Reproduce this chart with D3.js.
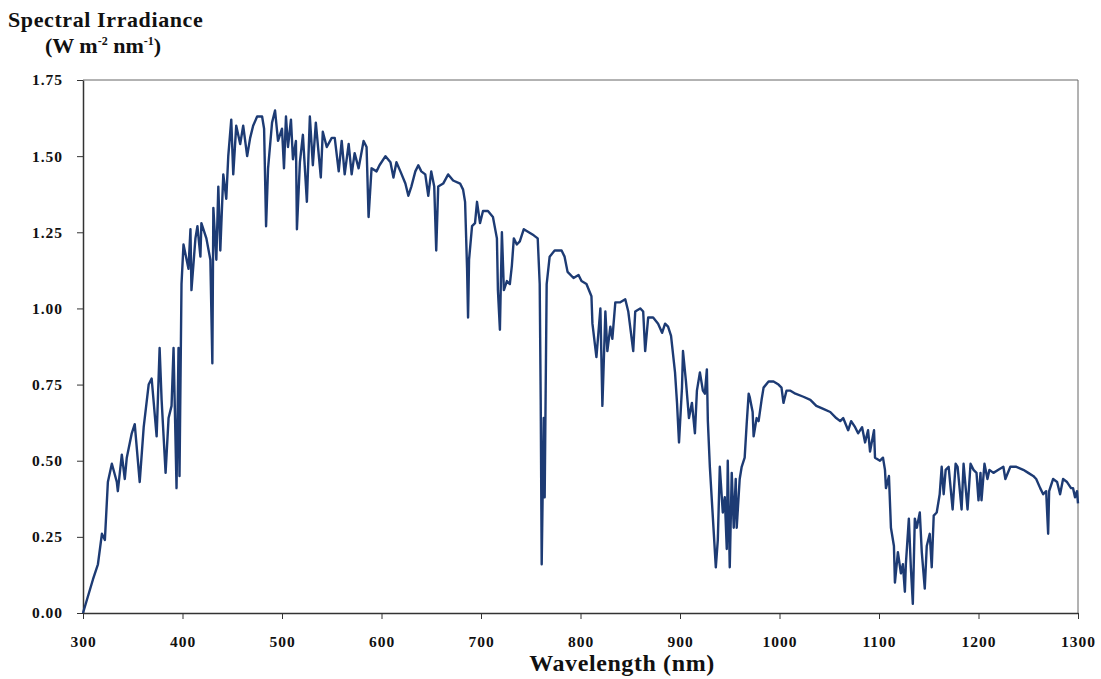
<!DOCTYPE html>
<html>
<head>
<meta charset="utf-8">
<script src="https://cdn.jsdelivr.net/npm/d3@7"></script>
<style>
  body { margin: 0; background: #fff; }
  svg text { font-family: 'Liberation Serif', 'DejaVu Serif', serif; font-weight: bold; fill: #111; font-variant-numeric: oldstyle-nums; }
  .axis path, .axis line { stroke: #333; }
</style>
</head>
<body>
<div id="chart"></div>
<script>
// spectrum, wavelength in nm, irradiance in W m-2 nm-1
const wavelength = [
  300, 310, 315, 319, 322, 325, 329, 334, 335, 339, 342, 344, 349, 352, 357, 361, 366, 369, 374, 377,
  379, 383, 386, 389, 391, 394, 396, 397, 399, 401, 406, 408, 409, 413, 415, 418, 419, 424, 428, 430,
  431, 434, 436, 438, 441, 444, 446, 449, 451, 454, 458, 461, 465, 468, 471, 475, 480, 482, 484, 486,
  490, 493, 496, 500, 502, 504, 506, 509, 511, 514, 515, 518, 521, 525, 528, 531, 534, 539, 541, 545,
  550, 553, 557, 560, 563, 567, 570, 573, 577, 582, 585, 587, 590, 595, 598, 604, 609, 612, 615, 619,
  624, 627, 630, 634, 637, 640, 644, 647, 650, 653, 655, 657, 662, 667, 672, 679, 682, 684, 686, 687,
  688, 691, 694, 696, 699, 702, 707, 712, 716, 717, 719, 721, 723, 726, 729, 731, 733, 736, 739, 743,
  748, 753, 757, 759, 760, 761, 763, 764, 766, 769, 774, 781, 784, 787, 793, 798, 801, 806, 811, 812,
  816, 820, 822, 825, 827, 830, 832, 835, 840, 845, 848, 853, 855, 860, 863, 865, 868, 873, 878, 882,
  885, 888, 891, 895, 897, 899, 902, 903, 906, 909, 912, 915, 917, 920, 923, 925, 927, 928, 930, 934,
  936, 938, 940, 943, 945, 947, 948, 950, 952, 954, 956, 957, 960, 962, 965, 967, 969, 970, 973, 974,
  977, 979, 982, 984, 989, 994, 999, 1002, 1004, 1007, 1011, 1016, 1024, 1031, 1037, 1044, 1051, 1057, 1061, 1064,
  1069, 1072, 1076, 1079, 1083, 1086, 1089, 1091, 1095, 1096, 1101, 1104, 1106, 1107, 1110, 1112, 1115, 1116, 1119, 1122,
  1124, 1126, 1127, 1130, 1132, 1134, 1136, 1138, 1141, 1143, 1146, 1148, 1151, 1153, 1155, 1158, 1161, 1163, 1165, 1167,
  1170, 1174, 1177, 1179, 1183, 1185, 1189, 1192, 1195, 1198, 1200, 1202, 1203, 1206, 1209, 1211, 1215, 1220, 1225, 1227,
  1232, 1238, 1245, 1250, 1255, 1258, 1262, 1265, 1268, 1270, 1271, 1275, 1279, 1282, 1285, 1289, 1293, 1295, 1297, 1299,
  1300
];
const irradiance = [
  0.00, 0.11, 0.16, 0.26, 0.24, 0.43, 0.49, 0.43, 0.40, 0.52, 0.44, 0.51, 0.59, 0.62, 0.43, 0.61, 0.75, 0.77, 0.58, 0.87,
  0.70, 0.46, 0.64, 0.68, 0.87, 0.41, 0.87, 0.45, 1.08, 1.21, 1.13, 1.26, 1.06, 1.23, 1.27, 1.17, 1.28, 1.23, 1.16, 0.82,
  1.33, 1.16, 1.40, 1.19, 1.44, 1.36, 1.50, 1.62, 1.44, 1.60, 1.54, 1.60, 1.50, 1.56, 1.60, 1.63, 1.63, 1.59, 1.27, 1.46,
  1.61, 1.65, 1.55, 1.59, 1.46, 1.63, 1.53, 1.62, 1.49, 1.55, 1.26, 1.48, 1.57, 1.35, 1.63, 1.47, 1.61, 1.43, 1.58, 1.53,
  1.56, 1.56, 1.45, 1.55, 1.44, 1.54, 1.44, 1.51, 1.46, 1.55, 1.53, 1.30, 1.46, 1.45, 1.47, 1.50, 1.48, 1.43, 1.48, 1.45,
  1.41, 1.37, 1.40, 1.45, 1.47, 1.45, 1.44, 1.37, 1.45, 1.40, 1.19, 1.40, 1.41, 1.44, 1.42, 1.41, 1.39, 1.35, 1.13, 0.97,
  1.16, 1.27, 1.28, 1.35, 1.28, 1.32, 1.32, 1.30, 1.23, 1.06, 0.93, 1.25, 1.06, 1.09, 1.08, 1.14, 1.23, 1.21, 1.22, 1.26,
  1.25, 1.24, 1.23, 1.08, 0.70, 0.16, 0.64, 0.38, 1.08, 1.17, 1.19, 1.19, 1.17, 1.12, 1.10, 1.11, 1.09, 1.08, 1.04, 0.95,
  0.84, 1.00, 0.68, 0.99, 0.86, 0.94, 0.90, 1.02, 1.02, 1.03, 0.99, 0.86, 0.99, 1.00, 0.99, 0.86, 0.97, 0.97, 0.95, 0.92,
  0.95, 0.94, 0.91, 0.79, 0.69, 0.56, 0.74, 0.86, 0.76, 0.64, 0.69, 0.59, 0.73, 0.79, 0.73, 0.72, 0.80, 0.63, 0.48, 0.26,
  0.15, 0.24, 0.48, 0.33, 0.38, 0.21, 0.50, 0.15, 0.46, 0.28, 0.44, 0.28, 0.44, 0.48, 0.51, 0.62, 0.72, 0.71, 0.66, 0.58,
  0.64, 0.63, 0.70, 0.74, 0.76, 0.76, 0.75, 0.74, 0.69, 0.73, 0.73, 0.72, 0.71, 0.70, 0.68, 0.67, 0.66, 0.64, 0.63, 0.64,
  0.60, 0.63, 0.61, 0.59, 0.61, 0.56, 0.60, 0.53, 0.60, 0.51, 0.50, 0.51, 0.47, 0.41, 0.45, 0.28, 0.22, 0.10, 0.20, 0.13,
  0.16, 0.07, 0.16, 0.31, 0.15, 0.03, 0.31, 0.28, 0.33, 0.20, 0.08, 0.22, 0.26, 0.15, 0.32, 0.33, 0.39, 0.48, 0.39, 0.47,
  0.48, 0.34, 0.49, 0.48, 0.34, 0.49, 0.34, 0.49, 0.47, 0.46, 0.37, 0.46, 0.37, 0.49, 0.44, 0.47, 0.46, 0.47, 0.48, 0.44,
  0.48, 0.48, 0.47, 0.46, 0.45, 0.44, 0.41, 0.39, 0.40, 0.26, 0.40, 0.44, 0.43, 0.39, 0.44, 0.43, 0.41, 0.41, 0.38, 0.40,
  0.36
];
const xTicks = [300, 400, 500, 600, 700, 800, 900, 1000, 1100, 1200, 1300];
const yTicks = [0, 0.25, 0.5, 0.75, 1, 1.25, 1.5, 1.75];

const width = 1101;
const height = 679;
const plotLeft = 83;
const plotRight = 1078;
const plotTop = 80;
const plotBottom = 613;

const $svg = d3.select('#chart').append('svg')
  .attr('width', width)
  .attr('height', height);

const x = d3.scaleLinear().domain([300, 1300]).range([plotLeft, plotRight]);
const y = d3.scaleLinear().domain([0, 1.75]).range([plotBottom, plotTop]);

// frame on top and right
$svg.append('path')
  .attr('d', `M${plotLeft},${plotTop}H${plotRight}V${plotBottom}`)
  .attr('fill', 'none')
  .attr('stroke', '#666')
  .attr('stroke-width', 1);

const $xAxis = $svg.append('g')
  .attr('class', 'axis')
  .attr('transform', `translate(0,${plotBottom})`)
  .call(d3.axisBottom(x).tickValues(xTicks).tickSize(6).tickSizeOuter(0).tickPadding(17).tickFormat(d3.format('d')));
$xAxis.selectAll('text').style('font-size', '15.5px').attr('letter-spacing', 1);

const $yAxis = $svg.append('g')
  .attr('class', 'axis')
  .attr('transform', `translate(${plotLeft},0)`)
  .call(d3.axisLeft(y).tickValues(yTicks).tickSize(6).tickSizeOuter(0).tickPadding(14).tickFormat(d3.format('.2f')));
$yAxis.selectAll('text').style('font-size', '15.5px').attr('letter-spacing', 1);

$svg.selectAll('.axis .domain').attr('stroke-width', 1.5);

// spectrum line
const line = d3.line()
  .x((d, i) => x(wavelength[i]))
  .y(d => y(d));

$svg.append('path')
  .datum(irradiance)
  .attr('d', line)
  .attr('fill', 'none')
  .attr('stroke', '#1d3b74')
  .attr('stroke-width', 2.4)
  .attr('stroke-linejoin', 'round');

// titles
$svg.append('text')
  .attr('x', 8)
  .attr('y', 27)
  .style('font-size', '22px')
  .attr('letter-spacing', 0.6)
  .text('Spectral Irradiance');

const $unit = $svg.append('text')
  .attr('x', 103)
  .attr('y', 53)
  .attr('text-anchor', 'middle')
  .style('font-size', '22px');
$unit.append('tspan').text('(W m');
$unit.append('tspan').attr('dy', -8).style('font-size', '12px').text('-2');
$unit.append('tspan').attr('dy', 8).text(' nm');
$unit.append('tspan').attr('dy', -8).style('font-size', '12px').text('-1');
$unit.append('tspan').attr('dy', 8).text(')');

$svg.append('text')
  .attr('x', 622)
  .attr('y', 671)
  .attr('text-anchor', 'middle')
  .style('font-size', '24px')
  .attr('letter-spacing', 0.6)
  .text('Wavelength (nm)');
</script>
</body>
</html>
